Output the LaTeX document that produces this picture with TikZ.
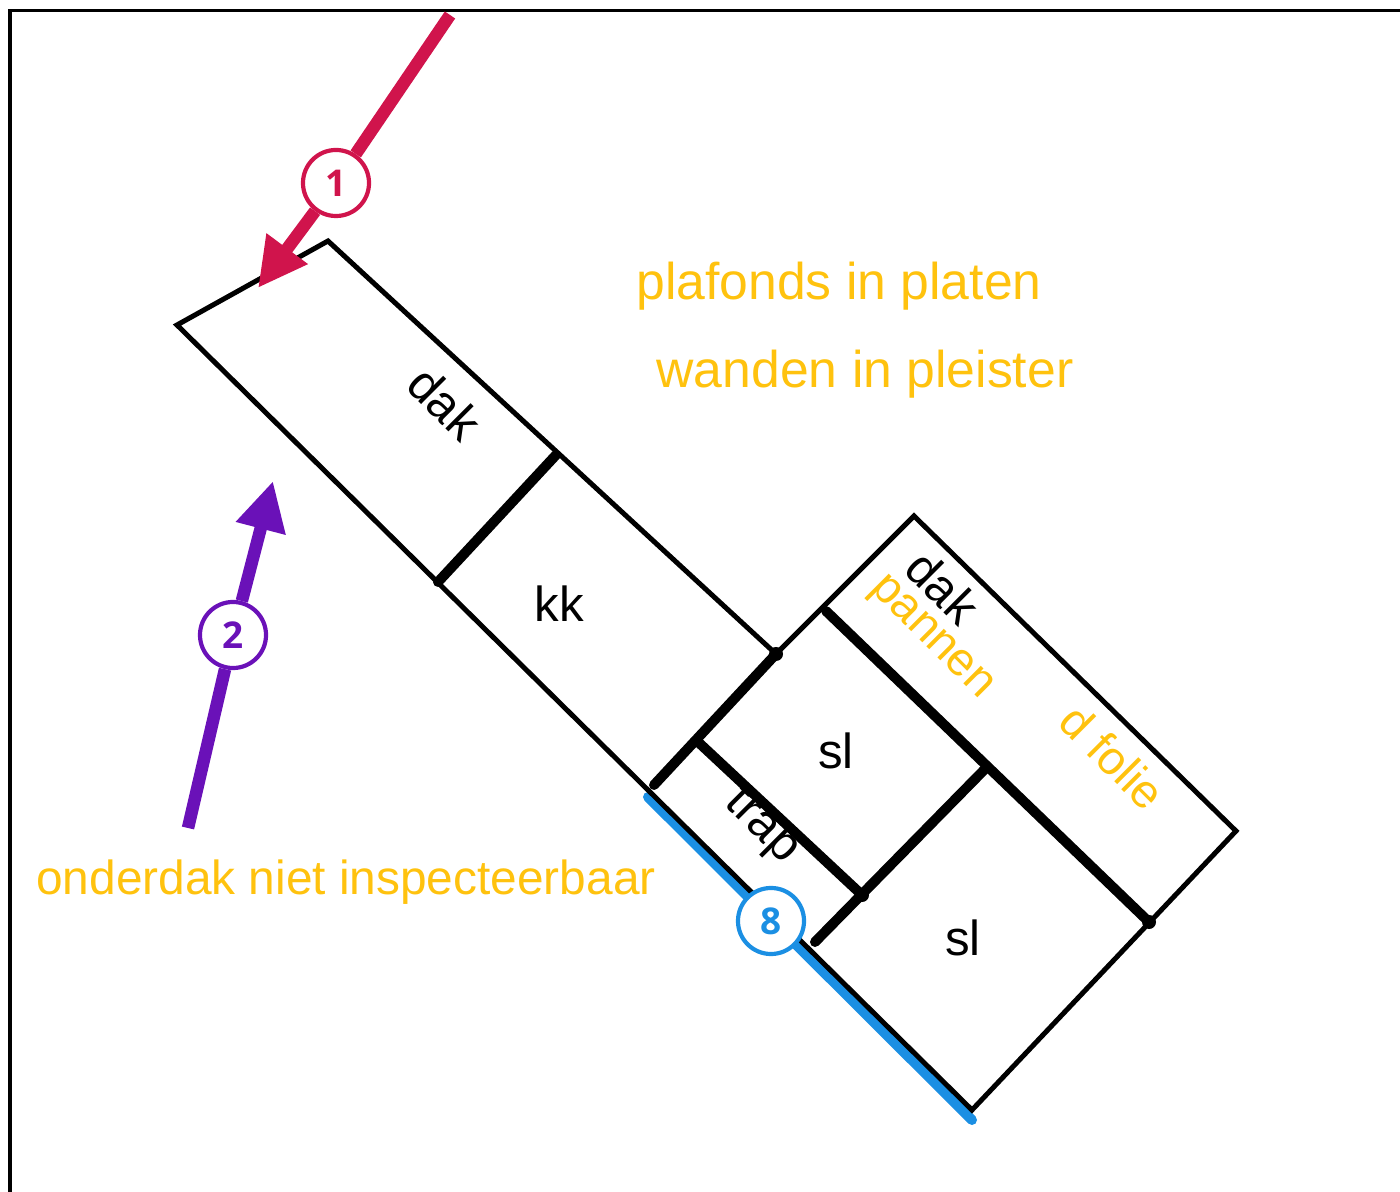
\documentclass[tikz,border=0pt]{standalone}
\usepackage{fontspec}
\setmainfont{Liberation Sans}
\newfontfamily\badgefont{Open Sans}
\usetikzlibrary{arrows.meta}
\definecolor{noteyellow}{HTML}{FFC20E}
\definecolor{roodA}{HTML}{D0144C}
\definecolor{paarsB}{HTML}{6A11B8}
\definecolor{blauwC}{HTML}{1B8FE3}
\tikzset{
	muur/.style={draw=black,line width=1mm,line cap=round},
	wand/.style={draw=black,line width=0.5mm,line join=miter},
	punt/.style={circle,fill=black,inner sep=0pt,minimum size=1.4mm},
	label/.style={font=\fontsize{14}{16}\selectfont,inner sep=0pt},
	note/.style={font=\fontsize{14.7}{16}\selectfont,text=noteyellow,inner sep=0pt},
	notesmall/.style={note,font=\fontsize{13.35}{16}\selectfont},
	notewide/.style={note,font=\fontsize{13.6}{16}\selectfont},
	badge/.style={circle,draw=#1,fill=white,text=#1,line width=0.42mm,minimum size=6.6mm,inner sep=0pt,font=\badgefont\bfseries\fontsize{10.5}{12}\selectfont},
	pijl/.style={draw=#1,line width=1.25mm},
	kop/.style={-{Triangle[length=4.9mm,width=4.8mm,color=#1]}},
}
\begin{document}
\begin{tikzpicture}[x=0.01cm,y=-0.01cm]
		\useasboundingbox (0,0) rectangle (1400,1192);
		% frame
		\coordinate (frameA) at (10,1192);
		\coordinate (frameB) at (10,11);
		\coordinate (frameC) at (1400,11);
		\draw[black,line width=0.3mm] (frameA) -- (frameB) -- (frameC);

		% outline of the floor plan
		\coordinate (A) at (177,325);
		\coordinate (B) at (328,241);
		\coordinate (C) at (556,455);
		\coordinate (D) at (438,582);
		\coordinate (F) at (914,516);
		\coordinate (G) at (1236,831);
		\coordinate (H) at (972,1110);
		\coordinate (L) at (650,792);
		\coordinate (M) at (826,611);
		\coordinate (P) at (697,741);
		\coordinate (Q) at (986,768);
		\coordinate (R) at (654,785);
		\coordinate (S) at (815,942);
		\node[punt] (E) at (776,654) {};
		\node[punt] (J) at (862,895) {};
		\node[punt] (K) at (1149,922) {};

		% blue line
		\coordinate (blauwA) at (648,797);
		\coordinate (blauwB) at (972,1120);
		\draw[pijl=blauwC,line width=1.0mm,line cap=round] (blauwA) -- (blauwB);

		\draw[wand] (L) -- (A) -- (B) -- (E.center) -- (F) -- (G) -- (H) -- (L);
		\node[badge=blauwC] (acht) at (771,921) {8};

		% thick walls
		\draw[muur] (C) -- (D);
		\draw[muur] (E.center) -- (R);
		\draw[muur] (P) -- (J.center);
		\draw[muur] (M) -- (K.center);
		\draw[muur] (Q) -- (S);

		% arrows
		\coordinate (eenA) at (450,15);
		\coordinate (eenB) at (258,288);
		\coordinate (tweeA) at (188,828);
		\coordinate (tweeB) at (273,481);
		\node[badge=roodA] (een) at (336,183) {1};
		\node[badge=paarsB] (twee) at (233,635) {2};
		\draw[pijl=roodA] (eenA) -- (een);
		\draw[pijl=roodA,kop=roodA] (een) -- (eenB);
		\draw[pijl=paarsB] (tweeA) -- (twee);
		\draw[pijl=paarsB,kop=paarsB] (twee) -- (tweeB);

		\node[label,rotate=-45] (dakA) at (445,403) {dak};
		\node[label] (kk) at (559,604) {kk};
		\node[label] (slA) at (836,751) {sl};
		\node[label] (slB) at (963,938) {sl};
		\node[label,rotate=-45] (trap) at (761,827) {trap};
		\node[label,rotate=-45] (dakB) at (943,587) {dak};

		\node[notesmall,rotate=-45] (pannen) at (930,639) {pannen};
		\node[notesmall,rotate=-45] (folie) at (1113,757) {d folie};
		\node[note] (plafonds) at (839,286) {plafonds in platen};
		\node[note] (wanden) at (865,374) {wanden in pleister};
		\node[notewide] (onderdak) at (346,882) {onderdak niet inspecteerbaar};
\end{tikzpicture}
\end{document}
